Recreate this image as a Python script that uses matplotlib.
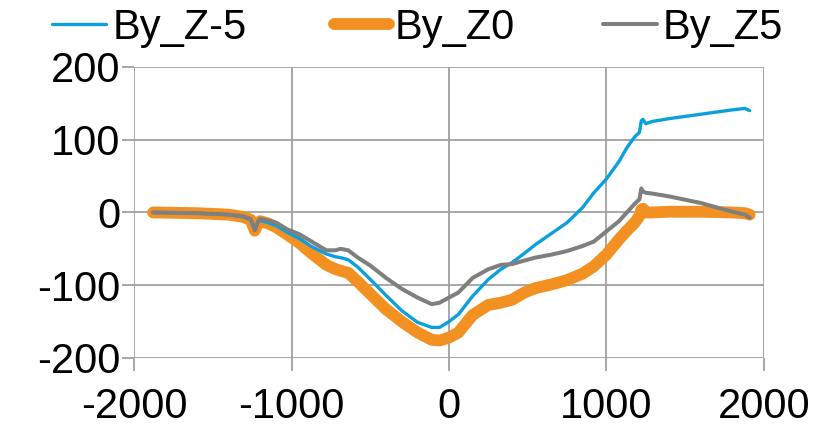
#!/usr/bin/env python
"""
By field profile along the x axis for three Z positions
"""

import matplotlib
matplotlib.use('Agg')
import matplotlib.pyplot as plt

# Sample positions shared by all three profiles
x = [-1880, -1600, -1400, -1310, -1260, -1234, -1215, -1200, -1150, -1100,
     -1030, -950, -880, -780, -720, -690, -640, -580, -500, -400,
     -300, -200, -110, -60, 0, 60, 150, 250, 330, 400,
     480, 550, 650, 750, 850, 920, 1000, 1080, 1130, 1180,
     1210, 1222, 1232, 1250, 1290, 1400, 1600, 1800, 1880, 1910]

by_zm5 = [0, -1, -3, -6, -10, -25, -14, -11, -14, -18,
          -27, -36, -46, -57, -61, -62, -65, -75, -92, -114,
          -135, -151, -158, -158, -150, -140, -115, -92, -78, -69,
          -56, -44, -29, -14, 7, 27, 46, 70, 89, 104,
          110, 126, 128, 122, 125, 129, 135, 141, 143, 140]

by_z0 = [0, -1, -3, -6, -10, -25, -15, -12, -15, -20,
         -30, -42, -55, -72, -78, -80, -83, -95, -112, -133,
         -150, -165, -175, -176, -172, -165, -141, -127, -124, -120,
         -110, -104, -99, -93, -84, -74, -58, -37, -25, -14,
         -5, 4, 5, 0, 0, 1, 1, 0, -1, -3]

by_z5 = [0, -1, -3, -5, -9, -24, -13, -9, -11, -14,
         -23, -30, -39, -52, -52, -50, -52, -62, -73, -90,
         -105, -117, -126, -124, -117, -110, -90, -78, -72, -71,
         -66, -62, -58, -53, -46, -40, -26, -12, 0, 12,
         18, 33, 29, 27, 26, 22, 13, 1, -3, -7]

labels = ['By_Z-5', 'By_Z0', 'By_Z5']

plt.rcParams['font.family'] = ['Liberation Sans', 'DejaVu Sans']
plt.rcParams['font.size'] = 30
plt.rcParams['axes.unicode_minus'] = False

fig = plt.figure(figsize=(8.16, 4.28), dpi=100)
ax = fig.add_axes([0.1645, 0.1636, 0.7715, 0.68])

grid_col = '#a0a0a0'
line_kw = dict(solid_capstyle='round', solid_joinstyle='round')
ax.plot(x, by_zm5, color='#0ba0dc', lw=2.4, label=labels[0], zorder=4, **line_kw)
ax.plot(x, by_z0, color='#f29021', lw=8.5, label=labels[1], zorder=3, **line_kw)
ax.plot(x, by_z5, color='#7f7f7f', lw=2.9, label=labels[2], zorder=5, **line_kw)

ax.set_xlim(-2000, 2000)
ax.set_ylim(-200, 200)
ax.set_xticks([-2000, -1000, 0, 1000, 2000])
ax.set_yticks([-200, -100, 0, 100, 200])
ax.grid(True, color=grid_col, lw=1.3)
ax.set_axisbelow(True)
for s in ax.spines.values():
    s.set_visible(False)
ax.tick_params(axis='both', direction='out', length=9, width=1.3,
               color=grid_col, labelsize=30)
ax.tick_params(axis='y', pad=1)
ax.tick_params(axis='x', pad=12)

ax.legend(loc='center', bbox_to_anchor=(0.512, 1 - 28 / 428), bbox_transform=fig.transFigure,
          ncol=3, frameon=False, fontsize=30, handlelength=1.3, handletextpad=0.15,
          columnspacing=2.1, borderaxespad=0.0, borderpad=0.0)

plt.savefig('out.png', dpi=100)
plt.close('all')
